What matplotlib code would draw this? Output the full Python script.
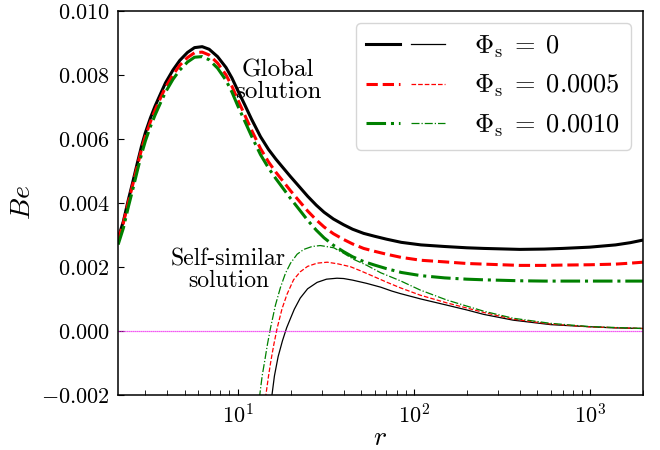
import matplotlib
matplotlib.use('Agg')
import matplotlib.pyplot as plt
from matplotlib.legend_handler import HandlerTuple
from matplotlib.ticker import FuncFormatter

# 字体：Computer Modern 风格
plt.rcParams['font.family'] = 'serif'
plt.rcParams['font.serif'] = ['cmr10']
plt.rcParams['mathtext.fontset'] = 'cm'
plt.rcParams['axes.formatter.use_mathtext'] = True

# global solution (粗线)
r_glob = [2.1, 2.25, 2.4, 2.55, 2.7, 2.85, 3.0, 3.2, 3.4, 3.65, 3.9, 4.3, 4.7, 5.2,
          5.7, 6.3, 6.9, 7.7, 8.6, 9.3, 10, 11, 12, 13.5, 15, 16.5, 18, 20, 22, 25,
          28, 31, 35, 40, 45, 52, 60, 70, 85, 110, 150, 200, 250, 400, 550, 700,
          1000, 1400, 1700, 2000]
be_glob_0 = [0.0029, 0.00343, 0.0041, 0.00468, 0.00525, 0.00577, 0.0062, 0.00665,
             0.00702, 0.0074, 0.00775, 0.00815, 0.00845, 0.0087, 0.00885, 0.00888,
             0.0088, 0.00857, 0.00823, 0.0079, 0.00753, 0.00706, 0.00662, 0.00607,
             0.00567, 0.00537, 0.00512, 0.00482, 0.00456, 0.00421, 0.00393, 0.00371,
             0.0035, 0.00332, 0.00318, 0.00305, 0.00296, 0.00287, 0.00277, 0.00269,
             0.00264, 0.0026, 0.00258, 0.00255, 0.00256, 0.00258, 0.00262, 0.00269,
             0.00276, 0.00284]
be_glob_5 = [0.00285, 0.00338, 0.00403, 0.0046, 0.00515, 0.00567, 0.00609, 0.00653,
             0.00689, 0.00727, 0.00761, 0.008, 0.0083, 0.00854, 0.00869, 0.00871,
             0.00862, 0.00837, 0.008, 0.00764, 0.00724, 0.00674, 0.00628, 0.0057,
             0.00528, 0.00496, 0.0047, 0.00438, 0.00411, 0.00375, 0.00347, 0.00325,
             0.00304, 0.00286, 0.00272, 0.00258, 0.00249, 0.0024, 0.0023, 0.00221,
             0.00216, 0.00211, 0.00209, 0.00205, 0.00205, 0.00206, 0.00207, 0.00209,
             0.00212, 0.00215]
be_glob_10 = [0.0027, 0.00322, 0.00388, 0.00445, 0.00501, 0.00552, 0.00594, 0.00638,
              0.00674, 0.00712, 0.00746, 0.00786, 0.00815, 0.0084, 0.00855, 0.00857,
              0.00847, 0.00821, 0.00783, 0.00746, 0.00705, 0.00655, 0.00609, 0.00551,
              0.00509, 0.00476, 0.00448, 0.00414, 0.00385, 0.00346, 0.00315, 0.00291,
              0.00268, 0.00248, 0.00232, 0.00217, 0.00206, 0.00195, 0.00183, 0.00173,
              0.00166, 0.00162, 0.0016, 0.00157, 0.00156, 0.00156, 0.00156, 0.00156,
              0.00156, 0.00156]

# self-similar solution (细线)
r_ss_0 = [15.6, 16.2, 17, 18, 19, 20, 21, 22.7, 25, 28.3, 32, 36.7, 40, 45, 54, 65,
          75, 84, 110, 154, 200, 250, 367, 600, 877, 1355, 2000]
be_ss_0 = [-0.0021, -0.0014, -0.0008, -0.0003, 0.0001, 0.0004, 0.00068, 0.00103,
           0.00132, 0.00152, 0.00162, 0.00165, 0.00164, 0.00159, 0.00149, 0.00137,
           0.00125, 0.00117, 0.0010, 0.00081, 0.00066, 0.00052, 0.00034, 0.0002,
           0.00015, 0.0001, 0.00008]
r_ss_5 = [14.4, 15, 15.5, 16.1, 16.8, 17.9, 19.1, 20.8, 22.7, 25, 28.3, 32.3, 37,
          43.7, 50, 56.7, 70, 84, 109, 154, 200, 250, 367, 600, 1000, 2000]
be_ss_5 = [-0.0021, -0.0014, -0.0009, -0.0004, 0.0001, 0.0007, 0.00115, 0.0016,
           0.00185, 0.00202, 0.00212, 0.00215, 0.0021, 0.00201, 0.00188, 0.00175,
           0.00153, 0.00135, 0.00112, 0.00088, 0.00072, 0.00058, 0.00037, 0.00022,
           0.00013, 0.00008]
r_ss_10 = [13.3, 13.8, 14.3, 14.8, 15.4, 16.4, 17.5, 18.7, 20, 21.8, 23.8, 26.5, 29.5,
           35.2, 40, 45.6, 54.3, 65, 84, 109, 154, 200, 250, 367, 600, 1000, 2000]
be_ss_10 = [-0.0021, -0.0014, -0.0009, -0.0004, 0.0001, 0.0008, 0.00135, 0.0018,
            0.00212, 0.0024, 0.00255, 0.00264, 0.00267, 0.0026, 0.00243, 0.00224,
            0.00205, 0.00182, 0.00157, 0.00128, 0.00097, 0.00078, 0.00062, 0.0004,
            0.00024, 0.00014, 0.00008]

labels = [r'$\Phi_{\rm s}\;=\;0$', r'$\Phi_{\rm s}\;=\;0.0005$', r'$\Phi_{\rm s}\;=\;0.0010$']

fig, ax = plt.subplots(figsize=(6.6, 4.5), dpi=100)
fig.subplots_adjust(left=0.179, right=0.974, top=0.976, bottom=0.122)

g0, = ax.plot(r_glob, be_glob_0, color='k', ls='-', lw=2.2)
g5, = ax.plot(r_glob, be_glob_5, color='r', ls='--', lw=2.2)
g10, = ax.plot(r_glob, be_glob_10, color='g', ls='-.', lw=2.2)
s0, = ax.plot(r_ss_0, be_ss_0, color='k', ls='-', lw=0.9)
s5, = ax.plot(r_ss_5, be_ss_5, color='r', ls='--', lw=0.9)
s10, = ax.plot(r_ss_10, be_ss_10, color='g', ls='-.', lw=0.9)

ax.axhline(0, color='#ee22ee', ls=(0, (1, 0.6)), lw=0.9)

ax.set_xscale('log')
ax.set_xlim(2.1, 2000)
ax.set_ylim(-0.002, 0.010)
ax.set_yticks([-0.002, 0.0, 0.002, 0.004, 0.006, 0.008, 0.010])
ax.yaxis.set_major_formatter(FuncFormatter(lambda v, p: r'$%.3f$' % v))

ax.tick_params(which='both', direction='in', labelsize=16, pad=6)
ax.tick_params(which='major', length=4)
ax.tick_params(which='minor', length=3.5)
for sp in ax.spines.values():
    sp.set_linewidth(1.1)

ax.set_xlabel(r'$r$', fontsize=20, labelpad=-2)
ax.set_ylabel(r'$Be$', fontsize=20, labelpad=4)

ax.text(17.0, 0.0078, 'Global\nsolution', fontsize=18, ha='center', va='center',
        linespacing=1.0)
ax.text(8.9, 0.0019, 'Self-similar\nsolution', fontsize=17, ha='center', va='center',
        linespacing=1.0)

ax.legend([(g0, s0), (g5, s5), (g10, s10)], labels,
          handler_map={tuple: HandlerTuple(ndivide=None, pad=0.4)},
          loc='upper right', fontsize=19, handlelength=3.0, handletextpad=1.1,
          borderaxespad=0.45, labelspacing=0.5)

plt.savefig('out.png', dpi=100)
